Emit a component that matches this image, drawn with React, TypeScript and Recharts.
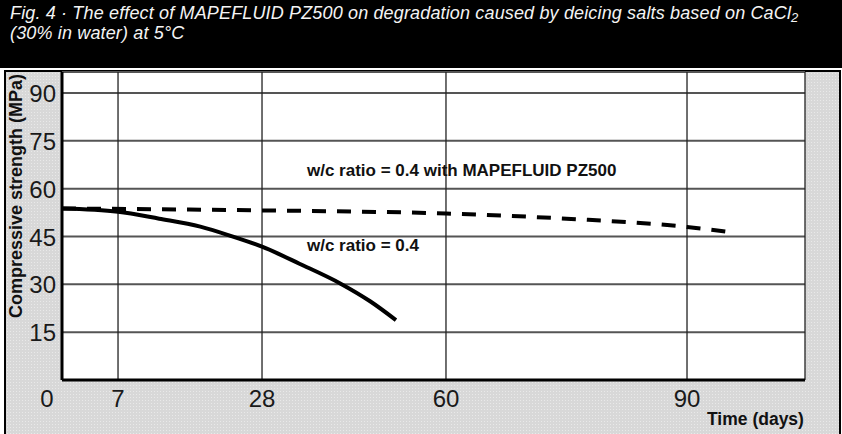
import React from 'react';
import { ComposedChart, Line, XAxis, YAxis, CartesianGrid, Customized } from 'recharts';

// ---- data ----
const plainDays = [0, 7, 13, 19, 23.3, 28, 34.6, 41.6, 46.8, 51.3];
const plainStrength = [53.8, 52.8, 50.6, 48.1, 45.3, 41.8, 36.4, 30.3, 24.7, 18.8];

const pzDays = [0, 28, 60, 75, 90, 96];
const pzStrength = [53.8, 53.2, 52.2, 50.6, 48.0, 46.2];

const xTicks = [0, 7, 28, 60, 90];
const yTicks = [15, 30, 45, 60, 75, 90];

const titleLine1 = 'Fig. 4 · The effect of MAPEFLUID PZ500 on degradation caused by deicing salts based on CaCl';
const titleSub = '2';
const titleLine2 = '(30% in water) at 5°C';
const yTitle = 'Compressive strength (MPa)';
const xTitle = 'Time (days)';
const labelPz = 'w/c ratio = 0.4 with MAPEFLUID PZ500';
const labelPlain = 'w/c ratio = 0.4';

const plainData = plainDays.map((d, i) => ({ day: d, strength: plainStrength[i] }));
const pzData = pzDays.map((d, i) => ({ day: d, strength: pzStrength[i] }));

// The printed time axis is not uniform: it is piecewise linear between its tick days.
const X_KNOTS = [0, 7, 28, 60, 90, 105];
const X_STOPS = [0, 0.0754, 0.2692, 0.5168, 0.8412, 1];

function makePiecewiseScale(): any {
  let dom: number[] = [X_KNOTS[0], X_KNOTS[X_KNOTS.length - 1]];
  let rng: number[] = [0, 1];
  const toFrac = (v: number) => {
    let i = 0;
    while (i < X_KNOTS.length - 2 && v > X_KNOTS[i + 1]) i++;
    return X_STOPS[i] + ((v - X_KNOTS[i]) / (X_KNOTS[i + 1] - X_KNOTS[i])) * (X_STOPS[i + 1] - X_STOPS[i]);
  };
  const fromFrac = (f: number) => {
    let i = 0;
    while (i < X_STOPS.length - 2 && f > X_STOPS[i + 1]) i++;
    return X_KNOTS[i] + ((f - X_STOPS[i]) / (X_STOPS[i + 1] - X_STOPS[i])) * (X_KNOTS[i + 1] - X_KNOTS[i]);
  };
  const scale: any = (v: number) => rng[0] + toFrac(Number(v)) * (rng[1] - rng[0]);
  scale.domain = function (d?: number[]) {
    if (d === undefined) return dom.slice();
    dom = d.slice();
    return scale;
  };
  scale.range = function (r?: number[]) {
    if (r === undefined) return rng.slice();
    rng = r.slice();
    return scale;
  };
  scale.invert = (px: number) => fromFrac((px - rng[0]) / (rng[1] - rng[0]));
  scale.ticks = () => xTicks.slice();
  scale.copy = () => {
    const c = makePiecewiseScale();
    c.domain(dom);
    c.range(rng);
    return c;
  };
  return scale;
}

const xScale = makePiecewiseScale();

const FONT = '"Liberation Sans", Arial, Helvetica, sans-serif';

const XTick = (props: any) => {
  const { x, y, payload } = props;
  const shift = payload.value === 0 ? -15 : 0;
  return (
    <text x={x + shift} y={y + 27} textAnchor="middle" fontFamily={FONT} fontSize={24} fill="#1a1a1a">
      {payload.value}
    </text>
  );
};

const YTick = (props: any) => {
  const { x, y, payload } = props;
  return (
    <text x={x} y={y + 9} textAnchor="end" fontFamily={FONT} fontSize={24} fill="#1a1a1a">
      {payload.value}
    </text>
  );
};

const Annotations = () => (
  <g fontFamily={FONT} fontWeight="bold" fill="#111">
    <text x={22} y={196} fontSize={18} textAnchor="middle" transform="rotate(-90, 22, 196)">
      {yTitle}
    </text>
    <text x={707} y={425} fontSize={17.5}>
      {xTitle}
    </text>
    <text x={307} y={176} fontSize={17}>
      {labelPz}
    </text>
    <text x={307} y={251} fontSize={17}>
      {labelPlain}
    </text>
  </g>
);

export default function App() {
  return (
    <div style={{ position: 'absolute', left: 0, top: 0, width: 842, height: 434, background: '#fff', overflow: 'hidden' }}>
      <div
        style={{
          position: 'absolute',
          left: 0,
          top: 0,
          width: 842,
          height: 68,
          background: '#000',
          color: '#f4f4f4',
          fontFamily: FONT,
          fontStyle: 'italic',
          fontSize: 18,
          letterSpacing: '0.15px',
        }}
      >
        <div style={{ position: 'absolute', left: 10, top: 3, lineHeight: '20px', whiteSpace: 'nowrap' }}>
          {titleLine1}
          <sub style={{ fontSize: 13, verticalAlign: '-3px' }}>{titleSub}</sub>
        </div>
        <div style={{ position: 'absolute', left: 10, top: 23, lineHeight: '20px', whiteSpace: 'nowrap' }}>{titleLine2}</div>
      </div>
      <div
        style={{
          position: 'absolute',
          left: 4,
          top: 70,
          width: 833,
          height: 380,
          borderLeft: '2px solid #000',
          borderRight: '2px solid #000',
          borderTop: '2px solid #000',
          backgroundColor: '#d8d8d8',
          backgroundImage: 'radial-gradient(#e9e9e9 0.7px, transparent 0.9px)',
          backgroundSize: '3px 3px',
        }}
      />
      <div style={{ position: 'absolute', left: 0, top: 0 }}>
        <ComposedChart width={842} height={434} margin={{ top: 72, right: 37, bottom: 0, left: 0 }}>
          <CartesianGrid horizontal={true} vertical={false} stroke="#555" strokeWidth={2} fill="#fff" />
          <CartesianGrid horizontal={false} vertical={true} stroke="#222" strokeWidth={1.3} />
          <XAxis
            type="number"
            dataKey="day"
            scale={xScale}
            domain={[0, 105]}
            ticks={xTicks}
            interval={0}
            height={54}
            tickSize={0}
            tickMargin={0}
            tickLine={false}
            axisLine={{ stroke: '#000', strokeWidth: 3 }}
            tick={<XTick />}
            allowDataOverflow
          />
          <YAxis
            type="number"
            domain={[0, 96.6]}
            ticks={yTicks}
            interval={0}
            width={62}
            tickSize={0}
            tickMargin={6}
            tickLine={false}
            axisLine={{ stroke: '#000', strokeWidth: 3 }}
            tick={<YTick />}
            allowDataOverflow
          />
          <YAxis
            yAxisId="frame"
            orientation="right"
            width={0}
            domain={[0, 96.6]}
            tick={false}
            tickLine={false}
            axisLine={{ stroke: '#000', strokeWidth: 3 }}
          />
          <Line
            data={pzData}
            dataKey="strength"
            type="monotone"
            stroke="#000"
            strokeWidth={4}
            strokeDasharray="14 11"
            dot={false}
            isAnimationActive={false}
          />
          <Line
            data={plainData}
            dataKey="strength"
            type="monotone"
            stroke="#000"
            strokeWidth={4}
            dot={false}
            isAnimationActive={false}
          />
          <Customized component={<Annotations />} />
        </ComposedChart>
      </div>
    </div>
  );
}
